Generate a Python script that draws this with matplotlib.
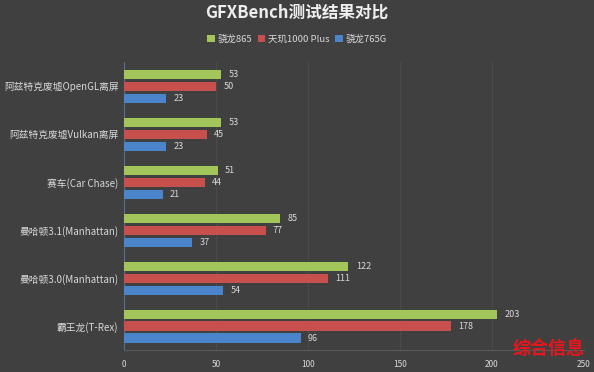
import matplotlib.pyplot as plt
import numpy as np

plt.rcParams['font.family'] = ['Noto Sans CJK SC', 'DejaVu Sans']

tests = ['阿兹特克废墟OpenGL离屏', '阿兹特克废墟Vulkan离屏', '赛车(Car Chase)',
         '曼哈顿3.1(Manhattan)', '曼哈顿3.0(Manhattan)', '霸王龙(T-Rex)']
chips = ['骁龙865', '天玑1000 Plus', '骁龙765G']
sd865 = [53, 53, 51, 85, 122, 203]
dim1000 = [50, 45, 44, 77, 111, 178]
sd765 = [23, 23, 21, 37, 54, 96]
colors = ['#a2c65a', '#c8504c', '#4a85cc']

bg = '#404040'
txt = '#d9d9d9'

fig = plt.figure(figsize=(5.94, 3.72), dpi=100, facecolor=bg)
ax = fig.add_axes([0.2088, 0.059, 0.774, 0.774], facecolor=bg)

y = np.arange(len(tests))[::-1]
h = 0.19
step = 0.25
for i, (vals, c, name) in enumerate(zip([sd865, dim1000, sd765], colors, chips)):
    pos = y + step * (1 - i)
    ax.barh(pos, vals, height=h, color=c, label=name, zorder=3)
    for p, v in zip(pos, vals):
        ax.text(v + 4, p, str(v), color=txt, fontsize=6.5, va='center', ha='left')

ax.set_xlim(0, 250)
ax.set_ylim(-0.5, len(tests) - 0.5)
ax.set_xticks([0, 50, 100, 150, 200, 250])
ax.set_yticks(y)
ax.set_yticklabels(tests, fontsize=7, color=txt)
ax.tick_params(axis='x', labelsize=6, colors=txt, length=0, pad=7)
ax.tick_params(axis='y', length=0, pad=4)
ax.grid(axis='x', color='#4a4a4a', linewidth=1, zorder=0)

for s in ['top', 'right']:
    ax.spines[s].set_visible(False)
ax.spines['left'].set_color('#5a6a8a')
ax.spines['bottom'].set_color('#5a5a5a')

fig.text(0.5, 0.965, 'GFXBench测试结果对比', ha='center', va='center',
         color='#eeeeee', fontsize=12, fontweight='bold')
fig.legend(loc='center', bbox_to_anchor=(0.5, 0.895), ncol=3, frameon=False,
           fontsize=6.8, labelcolor=txt, handlelength=0.8, handleheight=0.8,
           handletextpad=0.3, columnspacing=0.6)

fig.text(0.985, 0.062, '综合信息', ha='right', va='center', color='#e8161c',
         fontsize=13, fontweight='bold', zorder=5)

plt.savefig('out.png', dpi=100, facecolor=bg)
